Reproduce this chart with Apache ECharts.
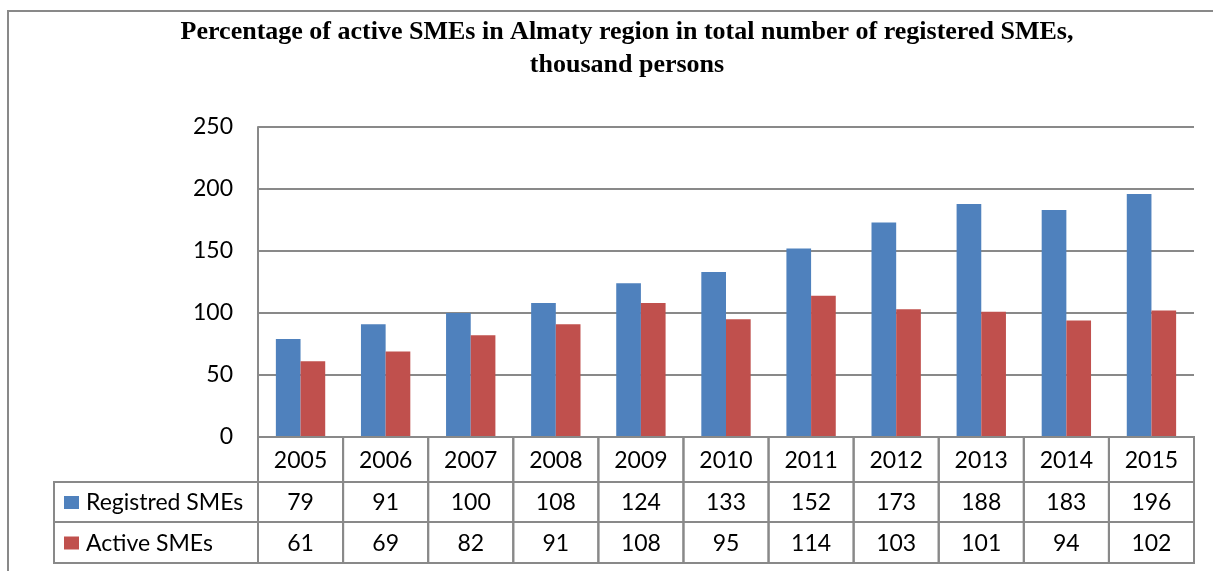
<!DOCTYPE html>
<html>
<head>
<meta charset="utf-8">
<script src="https://cdn.jsdelivr.net/npm/echarts@6/dist/echarts.min.js"></script>
<style>
  html, body { margin: 0; padding: 0; background: #fff; }
  #chart { width: 1213px; height: 571px; }
</style>
</head>
<body>
<div id="chart"></div>
<script>
// Years along the category axis
const years = ['2005', '2006', '2007', '2008', '2009', '2010', '2011', '2012', '2013', '2014', '2015'];
// Thousand persons
const registered = [79, 91, 100, 108, 124, 133, 152, 173, 188, 183, 196];
const active = [61, 69, 82, 91, 108, 95, 114, 103, 101, 94, 102];
const seriesNames = ['Registred SMEs', 'Active SMEs'];
const colors = ['#4F81BD', '#C0504D'];
const yTicks = [0, 50, 100, 150, 200, 250];

const titleLines = [
  'Percentage of active SMEs in Almaty region in total number of registered SMEs,',
  'thousand persons'
];

const FONT = 'Lato';
const FONT_SIZE = 23;
const LINE = '#898989';
const ROW_H = [45, 40, 41];   // heights of the year row and the two value rows
const HEAD_LEFT = 54;         // left edge of the row-header column

const chart = echarts.init(document.getElementById('chart'), null, { renderer: 'canvas' });

const tableRows = [registered, active];

// Draws the data table beneath the plot, one column per category
function renderTable(params, api) {
  const i = api.value(0);
  const c = api.coord([i, 0]);
  const w = api.size([1, 0])[0];
  const x0 = c[0] - w / 2;
  let y = c[1];
  const children = [];
  const cellStyle = { fill: null, stroke: LINE, lineWidth: 2 };
  const texts = [years[i], String(tableRows[0][i]), String(tableRows[1][i])];
  for (let r = 0; r < 3; r++) {
    const h = ROW_H[r];
    children.push({ type: 'rect', shape: { x: x0, y: y, width: w, height: h }, style: cellStyle, silent: true });
    children.push({
      type: 'text',
      style: {
        x: c[0], y: y + h / 2 + 1, text: texts[r], textAlign: 'center', textVerticalAlign: 'middle',
        fontFamily: FONT, fontSize: FONT_SIZE, fill: '#000'
      },
      silent: true
    });
    y += h;
  }
  return { type: 'group', children: children };
}

const option = {
  animation: false,
  backgroundColor: '#fff',
  grid: { left: 258, right: 19, top: 127, bottom: 134, containLabel: false },
  xAxis: {
    type: 'category',
    data: years,
    boundaryGap: true,
    axisLine: { show: true, lineStyle: { color: LINE, width: 2 } },
    axisTick: { show: false },
    axisLabel: { show: false },
    splitLine: { show: false }
  },
  yAxis: {
    type: 'value',
    min: yTicks[0],
    max: yTicks[yTicks.length - 1],
    interval: 50,
    axisLine: { show: true, lineStyle: { color: LINE, width: 2 } },
    axisTick: { show: false },
    axisLabel: { margin: 25, fontFamily: FONT, fontSize: FONT_SIZE, color: '#000' },
    splitLine: { show: true, lineStyle: { color: LINE, width: 2 } }
  },
  series: [
    {
      name: seriesNames[0], type: 'bar', data: registered,
      barGap: '0%', barCategoryGap: '42%',
      itemStyle: { color: colors[0] }
    },
    {
      name: seriesNames[1], type: 'bar', data: active,
      barGap: '0%', barCategoryGap: '42%',
      itemStyle: { color: colors[1] }
    },
    {
      type: 'custom',
      data: years.map((_, i) => [i, 0]),
      renderItem: renderTable,
      clip: false,
      silent: true,
      z: 5
    }
  ],
  graphic: [
    // outer frame
    { type: 'rect', shape: { x: 8, y: 11, width: 1215, height: 600 }, style: { fill: null, stroke: LINE, lineWidth: 2 }, silent: true, z: -1 },
    // title
    {
      type: 'text', x: 627, y: 16,
      style: {
        text: titleLines.join('\n'), textAlign: 'center', textVerticalAlign: 'top',
        fontFamily: 'Liberation Serif', fontWeight: 'bold', fontSize: 26, lineHeight: 33, fill: '#000'
      },
      silent: true
    }
  ]
};

// Row-header cells with legend keys for the two value rows
let yTop = 437 + ROW_H[0];
for (let r = 0; r < 2; r++) {
  const h = ROW_H[r + 1];
  option.graphic.push({
    type: 'rect', shape: { x: HEAD_LEFT, y: yTop, width: 258 - HEAD_LEFT, height: h },
    style: { fill: null, stroke: LINE, lineWidth: 2 }, silent: true
  });
  option.graphic.push({
    type: 'rect', shape: { x: 64, y: yTop + h / 2 - 6, width: 15, height: 13 },
    style: { fill: colors[r] }, silent: true
  });
  option.graphic.push({
    type: 'text', x: 86, y: yTop + h / 2 + 1,
    style: { text: seriesNames[r], textVerticalAlign: 'middle', fontFamily: FONT, fontSize: FONT_SIZE, fill: '#000' },
    silent: true
  });
  yTop += h;
}

chart.setOption(option);
</script>
</body>
</html>
